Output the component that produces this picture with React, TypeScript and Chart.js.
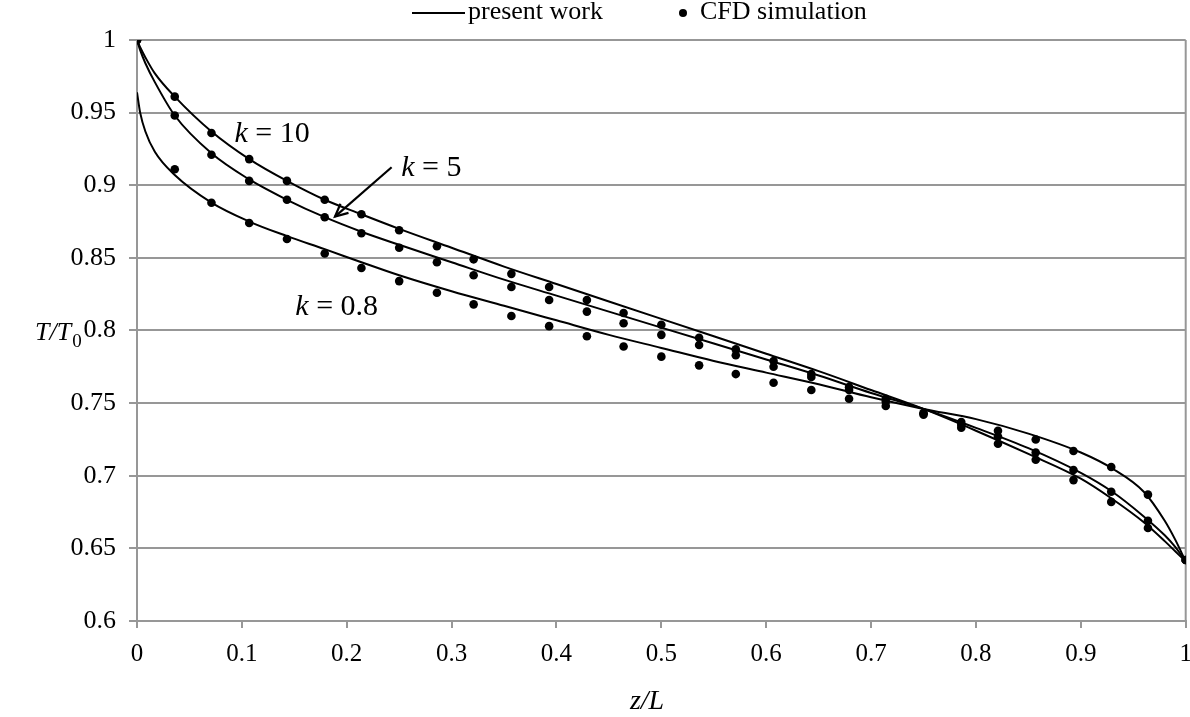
import React, { useEffect, useRef } from "react";
import { Chart, registerables } from "chart.js";

Chart.register(...registerables);

// Axial positions z/L of the model curves
const zModel = [0, 0.003, 0.008, 0.017, 0.036, 0.071, 0.107, 0.143, 0.179, 0.214, 0.25, 0.3, 0.35, 0.4, 0.45, 0.5, 0.55, 0.6, 0.65, 0.7, 0.75, 0.8, 0.85, 0.9, 0.93, 0.96, 0.98, 0.99, 1];

// Present work: T/T0 for each k
const modelK10 = [1.0, 0.995, 0.988, 0.977, 0.961, 0.937, 0.918, 0.903, 0.89, 0.88, 0.87, 0.857, 0.844, 0.832, 0.82, 0.808, 0.796, 0.784, 0.772, 0.759, 0.746, 0.731, 0.715, 0.698, 0.684, 0.668, 0.655, 0.648, 0.641];
const modelK5 = [1.0, 0.993, 0.984, 0.971, 0.948, 0.922, 0.904, 0.89, 0.878, 0.868, 0.859, 0.847, 0.835, 0.824, 0.813, 0.802, 0.791, 0.78, 0.769, 0.757, 0.746, 0.733, 0.719, 0.702, 0.689, 0.672, 0.659, 0.651, 0.641];
const modelK08 = [0.964, 0.95, 0.937, 0.923, 0.907, 0.888, 0.875, 0.865, 0.856, 0.847, 0.838, 0.827, 0.817, 0.807, 0.797, 0.788, 0.779, 0.771, 0.763, 0.754, 0.746, 0.739, 0.729, 0.716, 0.705, 0.689, 0.669, 0.656, 0.641];

// CFD sample positions z/L
const zCfd = [0, 0.036, 0.071, 0.107, 0.143, 0.179, 0.214, 0.25, 0.286, 0.321, 0.357, 0.393, 0.429, 0.464, 0.5, 0.536, 0.571, 0.607, 0.643, 0.679, 0.714, 0.75, 0.786, 0.821, 0.857, 0.893, 0.929, 0.964, 1];

// CFD simulation: T/T0 for each k
const cfdK10 = [1.0, 0.961, 0.936, 0.918, 0.903, 0.89, 0.88, 0.869, 0.858, 0.849, 0.839, 0.83, 0.821, 0.812, 0.804, 0.795, 0.787, 0.779, 0.77, 0.761, 0.753, 0.742, 0.733, 0.722, 0.711, 0.697, 0.682, 0.664, 0.642];
const cfdK5 = [1.0, 0.948, 0.921, 0.903, 0.89, 0.878, 0.867, 0.857, 0.847, 0.838, 0.83, 0.821, 0.813, 0.805, 0.797, 0.79, 0.783, 0.775, 0.768, 0.759, 0.751, 0.743, 0.735, 0.727, 0.716, 0.704, 0.689, 0.669, 0.642];
const cfdK08 = [1.0, 0.911, 0.888, 0.874, 0.863, 0.853, 0.843, 0.834, 0.826, 0.818, 0.81, 0.803, 0.796, 0.789, 0.782, 0.776, 0.77, 0.764, 0.759, 0.753, 0.748, 0.743, 0.737, 0.731, 0.725, 0.717, 0.706, 0.687, 0.642];

// Curve annotations (text, anchor in data units)
const curveLabelK = ["10", "5", "0.8"];
const curveLabelZ = [0.093, 0.252, 0.151];
const curveLabelT = [0.9296, 0.9066, 0.8107];

// Arrow pointing at the k = 5 curve: [z, T]
const arrowFrom = [0.2428, 0.9124];
const arrowTo = [0.1888, 0.8784];

const SERIF = "'Liberation Serif', 'Times New Roman', serif";
const GRID = "#979797";

const toPoints = (xs: number[], ys: number[]) => xs.map((x, i) => ({ x, y: ys[i] }));
const fmt = (v: number | string) => String(Number(Number(v).toFixed(2)));

const overlayPlugin = {
  id: "overlay",
  beforeDatasetsDraw(chart: any) {
    // right-hand frame line of the plot area
    const { ctx, chartArea } = chart;
    ctx.save();
    ctx.strokeStyle = GRID;
    ctx.lineWidth = 2;
    ctx.beginPath();
    ctx.moveTo(chartArea.right, chartArea.top);
    ctx.lineTo(chartArea.right, chartArea.bottom);
    ctx.stroke();
    ctx.restore();
  },
  afterDatasetsDraw(chart: any) {
    const { ctx } = chart;
    const xs = chart.scales.x;
    const ys = chart.scales.y;
    ctx.save();
    ctx.fillStyle = "#000";
    ctx.strokeStyle = "#000";
    ctx.textBaseline = "alphabetic";
    ctx.textAlign = "left";

    // k = ... labels
    curveLabelK.forEach((k, i) => {
      const px = xs.getPixelForValue(curveLabelZ[i]);
      const py = ys.getPixelForValue(curveLabelT[i]);
      ctx.font = `italic 30px ${SERIF}`;
      ctx.fillText("k", px, py);
      const w = ctx.measureText("k").width;
      ctx.font = `30px ${SERIF}`;
      ctx.fillText(" = " + k, px + w, py);
    });

    // arrow
    const x0 = xs.getPixelForValue(arrowFrom[0]);
    const y0 = ys.getPixelForValue(arrowFrom[1]);
    const x1 = xs.getPixelForValue(arrowTo[0]);
    const y1 = ys.getPixelForValue(arrowTo[1]);
    const ang = Math.atan2(y1 - y0, x1 - x0);
    ctx.lineWidth = 2.2;
    ctx.beginPath();
    ctx.moveTo(x0, y0);
    ctx.lineTo(x1, y1);
    ctx.stroke();
    const head = 14;
    ctx.beginPath();
    ctx.moveTo(x1 - head * Math.cos(ang - 0.45), y1 - head * Math.sin(ang - 0.45));
    ctx.lineTo(x1, y1);
    ctx.lineTo(x1 - head * Math.cos(ang + 0.45), y1 - head * Math.sin(ang + 0.45));
    ctx.stroke();
    ctx.restore();
  },
  afterDraw(chart: any) {
    const { ctx } = chart;
    ctx.save();
    ctx.fillStyle = "#000";
    ctx.strokeStyle = "#000";
    ctx.textBaseline = "alphabetic";
    ctx.textAlign = "left";

    // legend
    ctx.lineWidth = 2;
    ctx.beginPath();
    ctx.moveTo(412, 13);
    ctx.lineTo(465, 13);
    ctx.stroke();
    ctx.font = `26px ${SERIF}`;
    ctx.fillText("present work", 468, 19);
    ctx.beginPath();
    ctx.arc(683, 13, 4, 0, Math.PI * 2);
    ctx.fill();
    ctx.fillText("CFD simulation", 700, 19);

    // y-axis title T/T0
    ctx.font = `italic 26px ${SERIF}`;
    ctx.fillText("T/T", 35, 340);
    const w = ctx.measureText("T/T").width;
    ctx.font = `19px ${SERIF}`;
    ctx.fillText("0", 35 + w + 1, 347);

    // x-axis title z/L
    ctx.font = `italic 28px ${SERIF}`;
    ctx.textAlign = "center";
    ctx.fillText("z/L", 647, 709);
    ctx.restore();
  },
};

export default function App() {
  const canvasRef = useRef<HTMLCanvasElement | null>(null);

  useEffect(() => {
    if (!canvasRef.current) return;
    const lineStyle = {
      type: "line" as const,
      borderColor: "#000",
      borderWidth: 2,
      pointRadius: 0,
      fill: false,
      cubicInterpolationMode: "monotone" as const,
    };
    const dotStyle = {
      type: "scatter" as const,
      backgroundColor: "#000",
      borderColor: "#000",
      pointRadius: 4.3,
      pointBorderWidth: 0,
      showLine: false,
    };
    const chart = new Chart(canvasRef.current, {
      type: "line",
      data: {
        datasets: [
          { ...lineStyle, label: "present work k = 10", data: toPoints(zModel, modelK10) },
          { ...lineStyle, label: "present work k = 5", data: toPoints(zModel, modelK5) },
          { ...lineStyle, label: "present work k = 0.8", data: toPoints(zModel, modelK08) },
          { ...dotStyle, label: "CFD k = 10", data: toPoints(zCfd, cfdK10) },
          { ...dotStyle, label: "CFD k = 5", data: toPoints(zCfd, cfdK5) },
          { ...dotStyle, label: "CFD k = 0.8", data: toPoints(zCfd, cfdK08) },
        ] as any,
      },
      options: {
        animation: false,
        responsive: true,
        maintainAspectRatio: false,
        layout: { padding: { top: 40, right: 4, bottom: 0, left: 0 } },
        plugins: {
          legend: { display: false },
          tooltip: { enabled: false },
        },
        scales: {
          x: {
            type: "linear",
            min: 0,
            max: 1,
            ticks: {
              stepSize: 0.1,
              padding: 11,
              color: "#000",
              font: { family: SERIF, size: 25 },
              callback: (v: any) => fmt(v),
            },
            grid: { drawOnChartArea: false, drawTicks: true, tickLength: 7, color: GRID, lineWidth: 2 },
            border: { color: GRID, width: 2 },
            afterFit: (s: any) => {
              s.height = 96;
              s.paddingLeft = 0;
              s.paddingRight = 0;
            },
          },
          y: {
            type: "linear",
            min: 0.6,
            max: 1,
            ticks: {
              stepSize: 0.05,
              padding: 13,
              color: "#000",
              font: { family: SERIF, size: 26 },
              callback: (v: any) => fmt(v),
            },
            grid: { color: GRID, lineWidth: 2, tickLength: 8 },
            border: { color: GRID, width: 2 },
            afterFit: (s: any) => {
              s.width = 137;
              s.paddingTop = 0;
              s.paddingBottom = 0;
            },
          },
        },
      } as any,
      plugins: [overlayPlugin],
    });
    return () => chart.destroy();
  }, []);

  return (
    <div style={{ position: "fixed", left: 0, top: 0, width: 1190, height: 717, background: "#fff" }}>
      <canvas ref={canvasRef} />
    </div>
  );
}
